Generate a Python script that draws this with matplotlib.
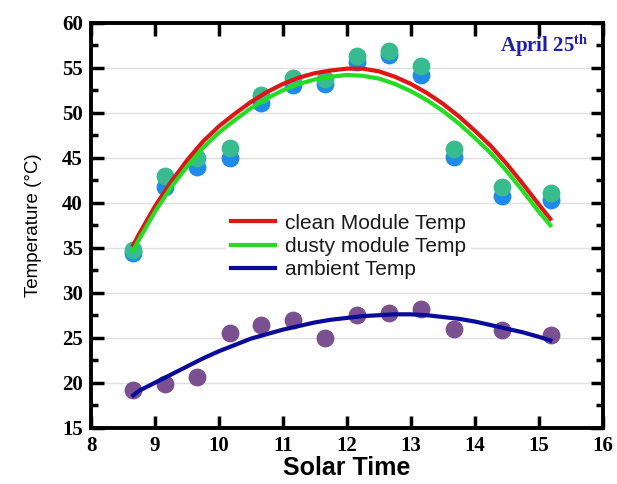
import numpy as np
import matplotlib
matplotlib.use("Agg")
import matplotlib.pyplot as plt

# Messpunkte
solar_time = [8.66, 9.15, 9.66, 10.17, 10.66, 11.15, 11.65, 12.16, 12.66, 13.16, 13.67, 14.43, 15.19]
clean_temp = [34.4, 41.7, 44.0, 45.0, 51.1, 53.1, 53.2, 55.6, 56.4, 54.2, 45.1, 40.7, 40.3]
dusty_temp = [34.7, 43.0, 45.0, 46.1, 52.0, 53.9, 53.8, 56.3, 56.9, 55.2, 46.0, 41.8, 41.1]
ambient_temp = [19.2, 19.9, 20.6, 25.5, 26.4, 27.0, 25.0, 27.5, 27.75, 28.2, 26.0, 25.9, 25.3]

# Trendlinien (alle 0.25 h)
fit_x = [8.66, 8.75, 9.0, 9.25, 9.5, 9.75, 10.0, 10.25, 10.5, 10.75, 11.0, 11.25, 11.5, 11.75,
         12.0, 12.25, 12.5, 12.75, 13.0, 13.25, 13.5, 13.75, 14.0, 14.25, 14.5, 14.75, 15.0, 15.18]
clean_fit = [35.3, 36.5, 39.6, 42.3, 44.7, 46.8, 48.5, 49.9, 51.2, 52.3, 53.2, 53.9, 54.4, 54.7,
             54.9, 54.9, 54.6, 54.0, 53.2, 52.2, 51.0, 49.6, 48.0, 46.3, 44.3, 42.1, 39.8, 38.2]
dusty_fit = [34.7, 35.9, 39.0, 41.7, 44.0, 46.1, 47.8, 49.2, 50.5, 51.6, 52.5, 53.2, 53.7, 54.0,
             54.2, 54.1, 53.8, 53.2, 52.4, 51.4, 50.2, 48.8, 47.2, 45.5, 43.5, 41.3, 39.0, 37.5]
ambient_fit = [18.6, 19.1, 20.0, 20.9, 21.8, 22.7, 23.5, 24.2, 24.9, 25.4, 25.9, 26.3, 26.7, 27.0,
               27.2, 27.4, 27.5, 27.6, 27.6, 27.5, 27.3, 27.1, 26.8, 26.4, 26.0, 25.6, 25.1, 24.7]

plt.rcParams["mathtext.fontset"] = "stix"

fig = plt.figure(figsize=(6.17, 4.84), dpi=100)
ax = fig.add_axes([0.1475, 0.1163, 0.8295, 0.8367])

ax.scatter(solar_time, clean_temp, s=140, color="#1E8BEA", zorder=3)
ax.scatter(np.array(solar_time), np.array(dusty_temp), s=140, color="#38BB8E", zorder=4)
ax.scatter(solar_time, ambient_temp, s=140, color="#7A5090", zorder=3)

lw = 3
ax.plot(fit_x, clean_fit, color="#E01515", lw=lw, label="clean Module Temp", zorder=5, solid_joinstyle="round")
ax.plot(fit_x, dusty_fit, color="#22DD22", lw=lw, label="dusty module Temp", zorder=5, solid_joinstyle="round")
ax.plot(fit_x, ambient_fit, color="#0B0B9A", lw=lw, label="ambient Temp", zorder=5, solid_joinstyle="round")

ax.set_xlim(8, 16)
ax.set_ylim(15, 60)
ax.set_xticks(range(8, 17))
ax.set_yticks(range(15, 61, 5))
ax.set_yticks(np.arange(17.5, 60, 5), minor=True)
ax.yaxis.grid(True, color="#e0e0e0", lw=1)
ax.set_axisbelow(True)

ax.tick_params(which="both", direction="in", top=True, right=True, width=2.5)
ax.tick_params(which="major", length=9, labelsize=15, pad=6)
ax.tick_params(which="minor", length=5)
for lab in ax.get_xticklabels() + ax.get_yticklabels():
    lab.set_family("Liberation Serif")
    lab.set_fontweight("bold")
for sp in ax.spines.values():
    sp.set_linewidth(2.8)

ax.set_xlabel("Solar Time", fontsize=18, fontweight="bold", family="Liberation Sans", labelpad=0)
ax.set_ylabel("Temperature (°C)", fontsize=13.5, family="Liberation Sans", labelpad=14)

ax.text(0.972, 0.942, r"April 25$^{\mathbf{th}}$", transform=ax.transAxes, ha="right", va="center",
        color="#1E1EA8", fontsize=15, fontweight="bold", family="Liberation Serif")

leg = ax.legend(loc="upper left", bbox_to_anchor=(0.243, 0.567), handlelength=2.1, handletextpad=0.5,
                frameon=True, facecolor="white", edgecolor="none", framealpha=1,
                borderpad=0.25, labelspacing=0.2, prop={"family": "Liberation Sans", "size": 15})
for t in leg.get_texts():
    t.set_color("#1a1a1a")

fig.savefig("out.png", dpi=100)
